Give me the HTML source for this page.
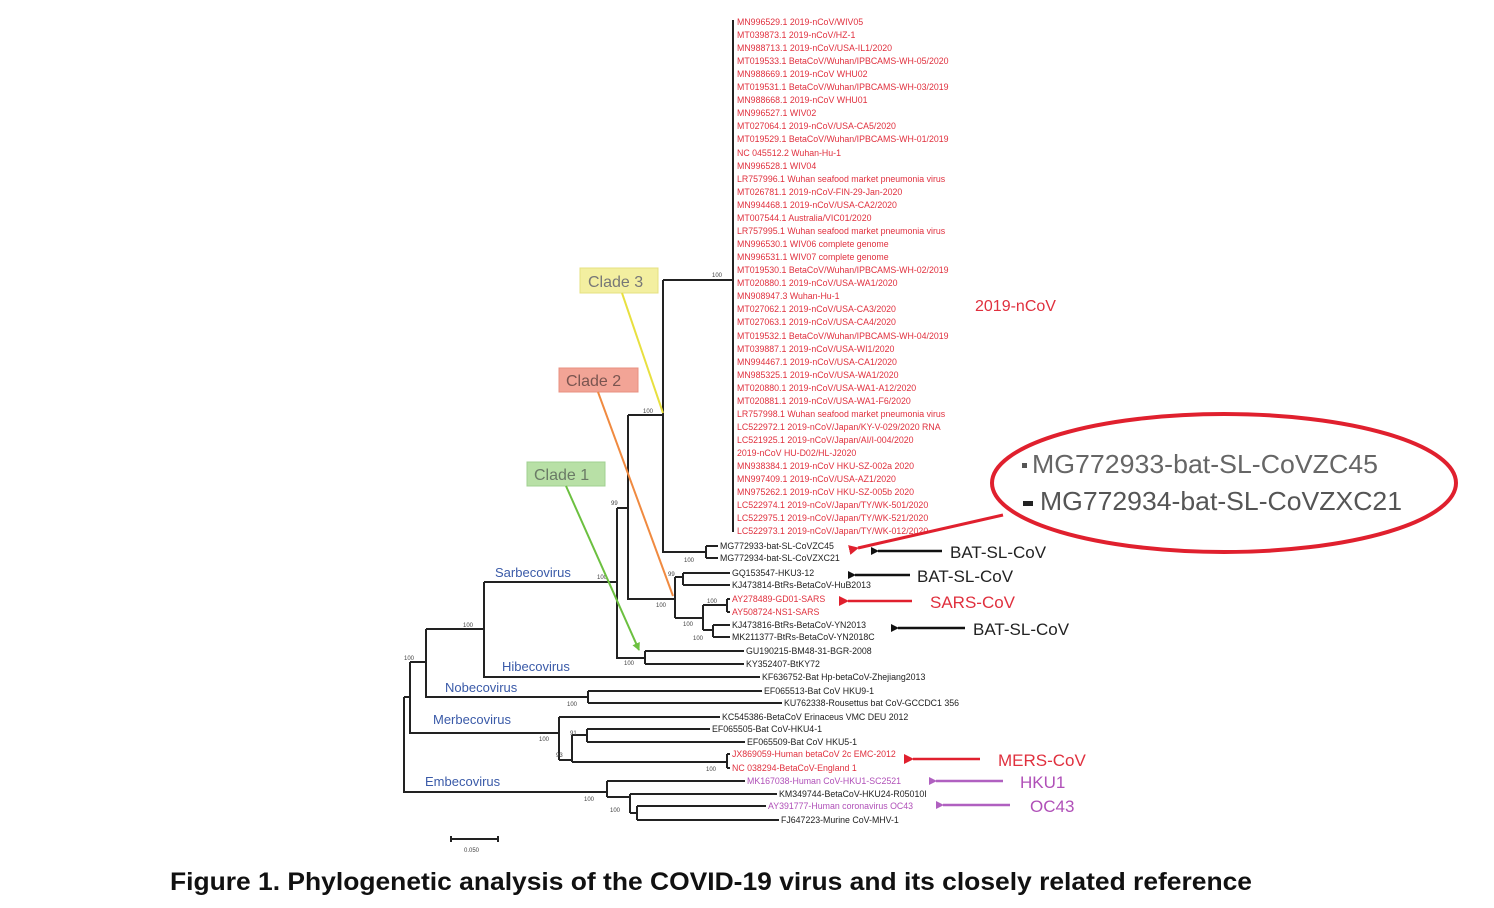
<!DOCTYPE html>
<html><head><meta charset="utf-8"><style>
html,body{margin:0;padding:0;background:#fff;}
svg{display:block;}
text{font-family:"Liberation Sans",sans-serif;}
</style></head><body>
<svg width="1494" height="908" viewBox="0 0 1494 908" xmlns="http://www.w3.org/2000/svg">
<defs>
<marker id="ab" markerWidth="8" markerHeight="8" refX="1" refY="4" orient="auto" markerUnits="userSpaceOnUse"><path d="M8,0 L0,4 L8,8 Z" fill="#111"/></marker>
<marker id="ar" markerWidth="10" markerHeight="10" refX="1" refY="5" orient="auto" markerUnits="userSpaceOnUse"><path d="M10,0 L0,5 L10,10 Z" fill="#e0202e"/></marker>
<marker id="ap" markerWidth="8" markerHeight="8" refX="1" refY="4" orient="auto" markerUnits="userSpaceOnUse"><path d="M8,0 L0,4 L8,8 Z" fill="#b060c0"/></marker>
<marker id="ag" markerWidth="8" markerHeight="8" refX="7" refY="4" orient="auto" markerUnits="userSpaceOnUse"><path d="M0,0 L8,4 L0,8 Z" fill="#6cc040"/></marker>
</defs>

<g stroke="#222" stroke-width="2" fill="none">
<path d="M733,20 V532"/>
<path d="M663,280 H733"/>
<path d="M663,280 V552 H706"/>
<path d="M706,546 V558"/>
<path d="M706,546 H718 M706,558 H718"/>
<path d="M628,415 H663"/>
<path d="M628,415 V599 H675"/>
<path d="M617,508 H628"/>
<path d="M675,577 V618"/>
<path d="M675,577 H683 M683,573 V585 M683,573 H730 M683,585 H730"/>
<path d="M675,618 H703 M703,605 V630 M703,605 H727 M727,599 V612 M727,599 H730 M727,612 H730"/>
<path d="M703,630 H713 M713,625 V637 M713,625 H730 M713,637 H730"/>
<path d="M617,508 V658 H645 M645,651 V664 M645,651 H744 M645,664 H744"/>
<path d="M484,582 H617"/>
<path d="M484,582 V677 H760"/>
<path d="M426,629 H484"/>
<path d="M426,629 V697 H588 M588,691 V703 M588,691 H762 M588,703 H782"/>
<path d="M410,662 H426 M410,662 V733 H559"/>
<path d="M559,717 V760 M559,717 H720 M559,760 H572 M572,735 V762"/>
<path d="M572,735 H587 M587,729 V742 M587,729 H710 M587,742 H745"/>
<path d="M572,762 H727 M727,754 V768 M727,754 H730 M727,768 H730"/>
<path d="M404,697 H410 M404,697 V792 H607"/>
<path d="M607,781 V797 M607,781 H745 M607,797 H630 M630,794 V813 M630,794 H777 M630,813 H637 M637,806 V820 M637,806 H766 M637,820 H779"/>
</g>

<g font-size="6" fill="#444">
<text x="712" y="277">100</text>
<text x="643" y="413">100</text>
<text x="611" y="505">99</text>
<text x="684" y="562">100</text>
<text x="597" y="579">100</text>
<text x="668" y="576">99</text>
<text x="656" y="607">100</text>
<text x="707" y="603">100</text>
<text x="683" y="626">100</text>
<text x="693" y="640">100</text>
<text x="624" y="665">100</text>
<text x="463" y="627">100</text>
<text x="404" y="660">100</text>
<text x="567" y="706">100</text>
<text x="539" y="741">100</text>
<text x="570" y="735">91</text>
<text x="556" y="757">93</text>
<text x="706" y="771">100</text>
<text x="584" y="801">100</text>
<text x="610" y="812">100</text>
</g>

<g font-size="8.8" fill="#e0303e">
<text x="737" y="25">MN996529.1 2019-nCoV/WIV05</text>
<text x="737" y="38">MT039873.1 2019-nCoV/HZ-1</text>
<text x="737" y="51">MN988713.1 2019-nCoV/USA-IL1/2020</text>
<text x="737" y="64">MT019533.1 BetaCoV/Wuhan/IPBCAMS-WH-05/2020</text>
<text x="737" y="77">MN988669.1 2019-nCoV WHU02</text>
<text x="737" y="90">MT019531.1 BetaCoV/Wuhan/IPBCAMS-WH-03/2019</text>
<text x="737" y="103">MN988668.1 2019-nCoV WHU01</text>
<text x="737" y="116">MN996527.1 WIV02</text>
<text x="737" y="129">MT027064.1 2019-nCoV/USA-CA5/2020</text>
<text x="737" y="142">MT019529.1 BetaCoV/Wuhan/IPBCAMS-WH-01/2019</text>
<text x="737" y="156">NC 045512.2 Wuhan-Hu-1</text>
<text x="737" y="169">MN996528.1 WIV04</text>
<text x="737" y="182">LR757996.1 Wuhan seafood market pneumonia virus</text>
<text x="737" y="195">MT026781.1 2019-nCoV-FIN-29-Jan-2020</text>
<text x="737" y="208">MN994468.1 2019-nCoV/USA-CA2/2020</text>
<text x="737" y="221">MT007544.1 Australia/VIC01/2020</text>
<text x="737" y="234">LR757995.1 Wuhan seafood market pneumonia virus</text>
<text x="737" y="247">MN996530.1 WIV06 complete genome</text>
<text x="737" y="260">MN996531.1 WIV07 complete genome</text>
<text x="737" y="273">MT019530.1 BetaCoV/Wuhan/IPBCAMS-WH-02/2019</text>
<text x="737" y="286">MT020880.1 2019-nCoV/USA-WA1/2020</text>
<text x="737" y="299">MN908947.3 Wuhan-Hu-1</text>
<text x="737" y="312">MT027062.1 2019-nCoV/USA-CA3/2020</text>
<text x="737" y="325">MT027063.1 2019-nCoV/USA-CA4/2020</text>
<text x="737" y="339">MT019532.1 BetaCoV/Wuhan/IPBCAMS-WH-04/2019</text>
<text x="737" y="352">MT039887.1 2019-nCoV/USA-WI1/2020</text>
<text x="737" y="365">MN994467.1 2019-nCoV/USA-CA1/2020</text>
<text x="737" y="378">MN985325.1 2019-nCoV/USA-WA1/2020</text>
<text x="737" y="391">MT020880.1 2019-nCoV/USA-WA1-A12/2020</text>
<text x="737" y="404">MT020881.1 2019-nCoV/USA-WA1-F6/2020</text>
<text x="737" y="417">LR757998.1 Wuhan seafood market pneumonia virus</text>
<text x="737" y="430">LC522972.1 2019-nCoV/Japan/KY-V-029/2020 RNA</text>
<text x="737" y="443">LC521925.1 2019-nCoV/Japan/AI/I-004/2020</text>
<text x="737" y="456">2019-nCoV HU-D02/HL-J2020</text>
<text x="737" y="469">MN938384.1 2019-nCoV HKU-SZ-002a 2020</text>
<text x="737" y="482">MN997409.1 2019-nCoV/USA-AZ1/2020</text>
<text x="737" y="495">MN975262.1 2019-nCoV HKU-SZ-005b 2020</text>
<text x="737" y="508">LC522974.1 2019-nCoV/Japan/TY/WK-501/2020</text>
<text x="737" y="521">LC522975.1 2019-nCoV/Japan/TY/WK-521/2020</text>
<text x="737" y="534">LC522973.1 2019-nCoV/Japan/TY/WK-012/2020</text>
</g>

<g font-size="8.8" fill="#222">
<text x="720" y="549">MG772933-bat-SL-CoVZC45</text>
<text x="720" y="561">MG772934-bat-SL-CoVZXC21</text>
<text x="732" y="576">GQ153547-HKU3-12</text>
<text x="732" y="588">KJ473814-BtRs-BetaCoV-HuB2013</text>
<text x="732" y="628">KJ473816-BtRs-BetaCoV-YN2013</text>
<text x="732" y="640">MK211377-BtRs-BetaCoV-YN2018C</text>
<text x="746" y="654">GU190215-BM48-31-BGR-2008</text>
<text x="746" y="667">KY352407-BtKY72</text>
<text x="762" y="680">KF636752-Bat Hp-betaCoV-Zhejiang2013</text>
<text x="764" y="694">EF065513-Bat CoV HKU9-1</text>
<text x="784" y="706">KU762338-Rousettus bat CoV-GCCDC1 356</text>
<text x="722" y="720">KC545386-BetaCoV Erinaceus VMC DEU 2012</text>
<text x="712" y="732">EF065505-Bat CoV-HKU4-1</text>
<text x="747" y="745">EF065509-Bat CoV HKU5-1</text>
<text x="779" y="797">KM349744-BetaCoV-HKU24-R05010I</text>
<text x="781" y="823">FJ647223-Murine CoV-MHV-1</text>
</g>
<g font-size="8.8" fill="#e0303e">
<text x="732" y="602">AY278489-GD01-SARS</text>
<text x="732" y="615">AY508724-NS1-SARS</text>
<text x="732" y="757">JX869059-Human betaCoV 2c EMC-2012</text>
<text x="732" y="771">NC 038294-BetaCoV-England 1</text>
</g>
<g font-size="8.8" fill="#b050b8">
<text x="747" y="784">MK167038-Human CoV-HKU1-SC2521</text>
<text x="768" y="809">AY391777-Human coronavirus OC43</text>
</g>

<g font-size="13" fill="#3a5aa8">
<text x="495" y="577">Sarbecovirus</text>
<text x="502" y="671">Hibecovirus</text>
<text x="445" y="692">Nobecovirus</text>
<text x="433" y="724">Merbecovirus</text>
<text x="425" y="786">Embecovirus</text>
</g>

<rect x="580" y="268" width="78" height="25" fill="#f3efa0" stroke="#e6e080"/>
<text x="588" y="287" font-size="16" fill="#777">Clade 3</text>
<line x1="622" y1="293" x2="663" y2="413" stroke="#e8e040" stroke-width="2"/>
<rect x="559" y="368" width="79" height="24" fill="#f2a496" stroke="#e89080"/>
<text x="566" y="386" font-size="16" fill="#7a5550">Clade 2</text>
<line x1="598" y1="392" x2="673" y2="596" stroke="#f08a40" stroke-width="2"/>
<rect x="527" y="462" width="78" height="24" fill="#b8e0a6" stroke="#a0d090"/>
<text x="534" y="480" font-size="16" fill="#6a7a66">Clade 1</text>
<line x1="566" y1="486" x2="639" y2="650" stroke="#6cc040" stroke-width="2" marker-end="url(#ag)"/>

<text x="975" y="311" font-size="16" fill="#e0303e">2019-nCoV</text>

<ellipse cx="1224" cy="483" rx="232" ry="69" fill="none" stroke="#e0202e" stroke-width="4"/>
<rect x="1022" y="463" width="5" height="5" fill="#555"/>
<text x="1032" y="473" font-size="26" fill="#666" textLength="346" lengthAdjust="spacingAndGlyphs">MG772933-bat-SL-CoVZC45</text>
<rect x="1023" y="501" width="10" height="5" fill="#222"/>
<text x="1040" y="510" font-size="26" fill="#555" textLength="362" lengthAdjust="spacingAndGlyphs">MG772934-bat-SL-CoVZXC21</text>
<line x1="1003" y1="515" x2="858" y2="548" stroke="#e0202e" stroke-width="3" marker-end="url(#ar)"/>

<line x1="942" y1="551" x2="878" y2="551" stroke="#111" stroke-width="2.5" marker-end="url(#ab)"/>
<text x="950" y="558" font-size="17" fill="#222">BAT-SL-CoV</text>
<line x1="910" y1="575" x2="855" y2="575" stroke="#111" stroke-width="2.5" marker-end="url(#ab)"/>
<text x="917" y="582" font-size="17" fill="#222">BAT-SL-CoV</text>
<line x1="912" y1="601" x2="848" y2="601" stroke="#e0202e" stroke-width="2.5" marker-end="url(#ar)"/>
<text x="930" y="608" font-size="17" fill="#e0303e">SARS-CoV</text>
<line x1="965" y1="628" x2="898" y2="628" stroke="#111" stroke-width="2.5" marker-end="url(#ab)"/>
<text x="973" y="635" font-size="17" fill="#222">BAT-SL-CoV</text>
<line x1="980" y1="759" x2="913" y2="759" stroke="#e0202e" stroke-width="2.5" marker-end="url(#ar)"/>
<text x="998" y="766" font-size="17" fill="#e0303e">MERS-CoV</text>
<line x1="1003" y1="781" x2="936" y2="781" stroke="#b060c0" stroke-width="2.5" marker-end="url(#ap)"/>
<text x="1020" y="788" font-size="17" fill="#b050b8">HKU1</text>
<line x1="1010" y1="805" x2="943" y2="805" stroke="#b060c0" stroke-width="2.5" marker-end="url(#ap)"/>
<text x="1030" y="812" font-size="17" fill="#b050b8">OC43</text>

<path d="M451,836 V842 M451,839 H498 M498,836 V842" stroke="#222" stroke-width="2" fill="none"/>
<text x="464" y="852" font-size="6" fill="#444">0.050</text>

<text x="170" y="890" font-size="25" font-weight="bold" fill="#111" textLength="1082" lengthAdjust="spacingAndGlyphs">Figure 1. Phylogenetic analysis of the COVID-19 virus and its closely related reference</text>
</svg>
</body></html>
